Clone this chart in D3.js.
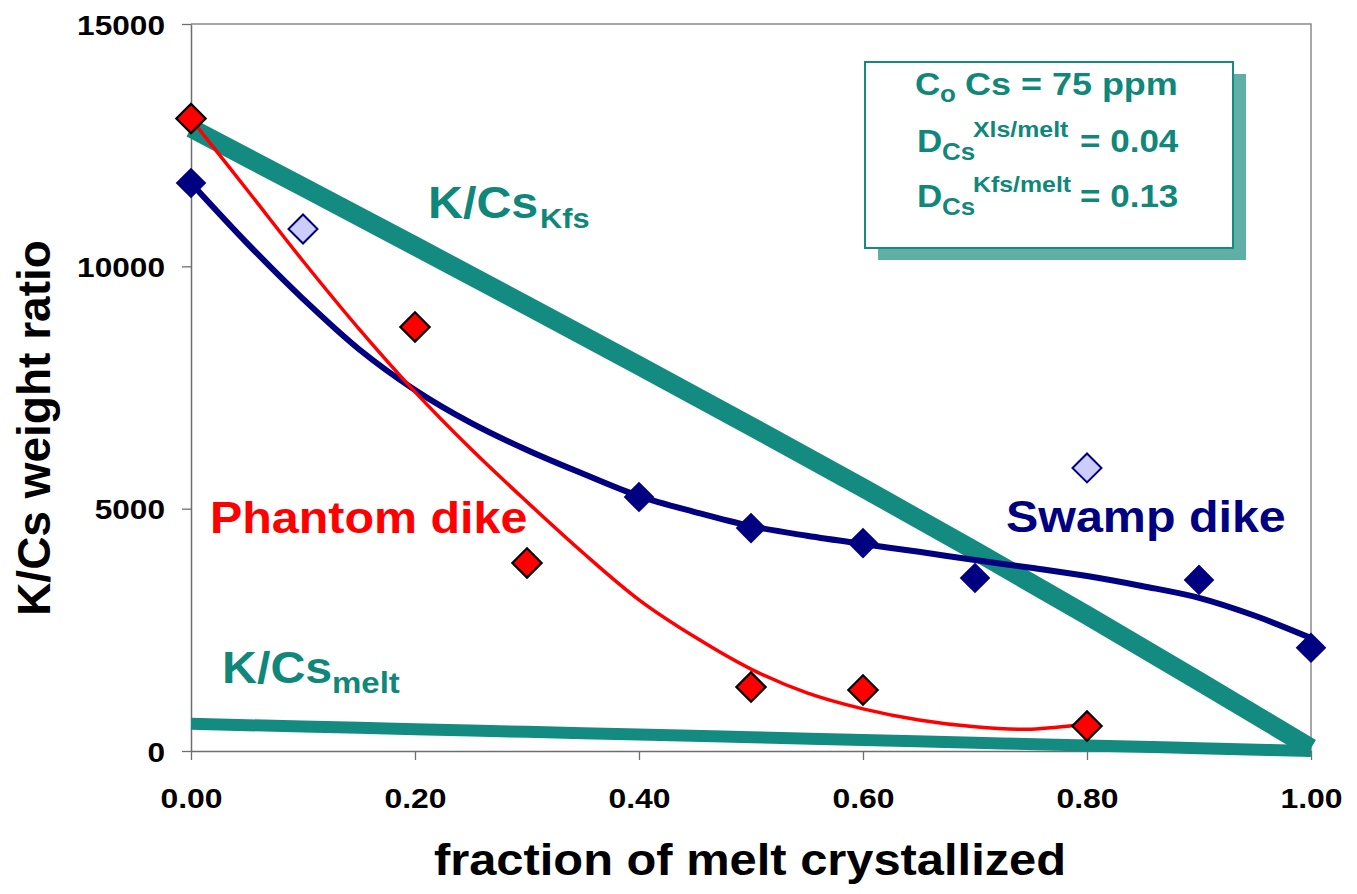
<!DOCTYPE html>
<html>
<head>
<meta charset="utf-8">
<script src="https://cdn.jsdelivr.net/npm/d3@7"></script>
<style>
  html, body { margin: 0; padding: 0; background: #ffffff; }
  svg { display: block; font-family: "Liberation Sans", Arial, Helvetica, sans-serif; }
</style>
</head>
<body>
<svg id="chart" width="1357" height="894"></svg>
<script>
// ---------------- data ----------------
const xTicks = [0, 0.2, 0.4, 0.6, 0.8, 1.0];
const yTicks = [0, 5000, 10000, 15000];

// Phantom dike samples
const phantomX = [0, 0.2, 0.3, 0.5, 0.6, 0.8];
const phantomY = [13050, 8750, 3880, 1320, 1260, 515];

// Swamp dike samples
const swampX = [0, 0.4, 0.5, 0.6, 0.7, 0.9, 1.0];
const swampY = [11720, 5240, 4600, 4290, 3570, 3530, 2130];

// Swamp dike outliers (open markers)
const outlierX = [0.1, 0.8];
const outlierY = [10770, 5840];

// Trend lines
const phantomTrendX = [0, 0.05, 0.1, 0.15, 0.2, 0.25, 0.3, 0.35, 0.4, 0.45, 0.5, 0.55, 0.6, 0.65, 0.7, 0.75, 0.8];
const phantomTrendY = [13040, 11580, 10110, 8710, 7410, 6230, 5140, 4090, 3120, 2350, 1690, 1200, 870, 640, 500, 450, 560];
const swampTrendX = [0, 0.05, 0.1, 0.15, 0.2, 0.25, 0.3, 0.35, 0.4, 0.45, 0.5, 0.55, 0.6, 0.65, 0.7, 0.75, 0.8, 0.85, 0.9, 0.95, 1.0];
const swampTrendY = [11720, 10480, 9330, 8290, 7450, 6770, 6210, 5720, 5260, 4930, 4640, 4440, 4270, 4110, 3940, 3780, 3610, 3400, 3160, 2790, 2330];

// Model curves (K/Cs in K-feldspar and in melt)
const modelX = [0, 0.1, 0.2, 0.3, 0.4, 0.5, 0.6, 0.7, 0.8, 0.9, 1.0];
const kfsY  = [12850, 11640, 10420, 9190, 7950, 6700, 5430, 4130, 2800, 1440, 60];
const meltY = [560, 505, 450, 395, 340, 285, 228, 170, 114, 58, 0];

// ---------------- drawing ----------------
const svg = d3.select("#chart");
const TEAL = "#148b81", TEXT_TEAL = "#0f877a", NAVY = "#000080", RED = "#ff0000";
const FONT = '"Liberation Sans", Arial, Helvetica, sans-serif';

const x = d3.scaleLinear().domain([0, 1]).range([191, 1311]);
const y = d3.scaleLinear().domain([0, 15000]).range([751, 24]);

svg.append("rect").attr("width", 1357).attr("height", 894).attr("fill", "#ffffff");

// plot frame (top & right)
svg.append("path")
  .attr("d", `M${x(0)},${y(15000)}H${x(1)}V${y(0)}`)
  .attr("fill", "none").attr("stroke", "#8a8a8a").attr("stroke-width", 1.5);

// axes
const gx = svg.append("g").attr("transform", `translate(0,${y(0)})`)
  .call(d3.axisBottom(x).tickValues(xTicks).tickFormat(d3.format(".2f")).tickSize(9).tickSizeOuter(0));
const gy = svg.append("g").attr("transform", `translate(${x(0)},0)`)
  .call(d3.axisLeft(y).tickValues(yTicks).tickFormat(d3.format("d")).tickSize(9).tickSizeOuter(0));

[gx, gy].forEach(g => {
  g.select(".domain").attr("stroke", "#6e6e6e").attr("stroke-width", 1.5);
  g.selectAll(".tick line").attr("stroke", "#6e6e6e").attr("stroke-width", 1.3);
  g.selectAll(".tick text")
    .attr("fill", "#000").attr("font-size", 28).attr("font-weight", "bold")
    .attr("font-family", FONT);
});
gx.selectAll(".tick text").attr("y", 57).attr("dy", 0).attr("transform", "scale(1.14,1)");
gy.selectAll(".tick text").attr("x", -26 / 1.13).attr("dy", "0.36em").attr("transform", "scale(1.13,1)");

// model lines
const lineM = d3.line().x((d, i) => x(modelX[i])).y(d => y(d)).curve(d3.curveMonotoneX);
svg.append("path").attr("d", lineM(meltY)).attr("fill", "none")
  .attr("stroke", TEAL).attr("stroke-width", 12);
svg.append("path").attr("d", lineM(kfsY)).attr("fill", "none")
  .attr("stroke", TEAL).attr("stroke-width", 19);

// trend lines
svg.append("path")
  .attr("d", d3.line().x((d, i) => x(swampTrendX[i])).y(d => y(d)).curve(d3.curveCatmullRom)(swampTrendY))
  .attr("fill", "none").attr("stroke", NAVY).attr("stroke-width", 6);
svg.append("path")
  .attr("d", d3.line().x((d, i) => x(phantomTrendX[i])).y(d => y(d)).curve(d3.curveCatmullRom)(phantomTrendY))
  .attr("fill", "none").attr("stroke", RED).attr("stroke-width", 3.5);

// markers (diamonds = rotated squares)
const diamond = d3.symbol().type(d3.symbolSquare);
svg.selectAll(".out").data(outlierY).join("path")
  .attr("d", diamond.size(420)())
  .attr("transform", (d, i) => `translate(${x(outlierX[i])},${y(d)}) rotate(45)`)
  .attr("fill", "#ccccff").attr("stroke", NAVY).attr("stroke-width", 2);
svg.selectAll(".sw").data(swampY).join("path")
  .attr("d", diamond.size(470)())
  .attr("transform", (d, i) => `translate(${x(swampX[i])},${y(d)}) rotate(45)`)
  .attr("fill", NAVY);
svg.selectAll(".ph").data(phantomY).join("path")
  .attr("d", diamond.size(430)())
  .attr("transform", (d, i) => `translate(${x(phantomX[i])},${y(d)}) rotate(45)`)
  .attr("fill", RED).attr("stroke", "#000").attr("stroke-width", 2.2);

// text helper
function txt(px, py, s, size, color, k, anchor) {
  return svg.append("text")
    .attr("transform", `translate(${px},${py}) scale(${k},1)`)
    .attr("font-family", FONT).attr("font-size", size).attr("font-weight", "bold")
    .attr("fill", color).attr("text-anchor", anchor || "start").text(s);
}

// curve labels
txt(428, 218, "K/Cs", 44, TEXT_TEAL, 1.1);
txt(540, 228, "Kfs", 28, TEXT_TEAL, 1.1);
txt(222, 683, "K/Cs", 44, TEXT_TEAL, 1.1);
txt(332, 693, "melt", 30, TEXT_TEAL, 1.1);
txt(210, 533, "Phantom dike", 44, RED, 1.1);
txt(1006, 532, "Swamp dike", 44, NAVY, 1.1);

// parameter box
svg.append("rect").attr("x", 878).attr("y", 74).attr("width", 368).attr("height", 186).attr("fill", "#5fafa7");
svg.append("rect").attr("x", 865).attr("y", 62).attr("width", 368).attr("height", 186)
  .attr("fill", "#ffffff").attr("stroke", TEAL).attr("stroke-width", 2);
const K = 1.13;
txt(915, 95, "C", 31, TEXT_TEAL, K);
txt(940, 102, "o", 23, TEXT_TEAL, K);
txt(965, 95, "Cs = 75 ppm", 31, TEXT_TEAL, 1.16);
txt(917, 152, "D", 31, TEXT_TEAL, K);
txt(942, 160, "Cs", 23, TEXT_TEAL, K);
txt(973, 137, "Xls/melt", 22, TEXT_TEAL, K);
txt(1080, 152, "= 0.04", 31, TEXT_TEAL, K);
txt(917, 207, "D", 31, TEXT_TEAL, K);
txt(942, 215, "Cs", 23, TEXT_TEAL, K);
txt(973, 192, "Kfs/melt", 22, TEXT_TEAL, K);
txt(1080, 207, "= 0.13", 31, TEXT_TEAL, K);

// axis titles
txt(750, 875, "fraction of melt crystallized", 44, "#000", 1.11, "middle");
svg.append("text")
  .attr("transform", "translate(50,428) rotate(-90)")
  .attr("font-family", FONT).attr("font-size", 46).attr("font-weight", "bold")
  .attr("fill", "#000").attr("text-anchor", "middle").text("K/Cs weight ratio");
</script>
</body>
</html>
